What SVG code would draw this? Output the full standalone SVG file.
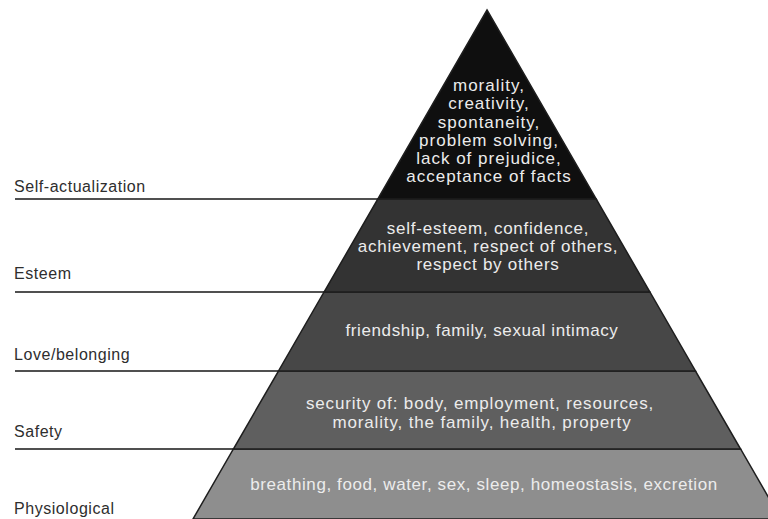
<svg xmlns="http://www.w3.org/2000/svg" width="768" height="519" viewBox="0 0 768 519">
<style>
.band{stroke:#1e1e1e;stroke-width:1.5;stroke-linejoin:miter}
.t{font-family:"Liberation Sans",Arial,Helvetica,sans-serif;font-size:17px;fill:#ececec;text-anchor:middle;letter-spacing:0.6px}
.top{letter-spacing:1px}
.es{letter-spacing:0.75px}
.lbl{font-family:"Liberation Sans",Arial,Helvetica,sans-serif;font-size:16px;fill:#2e2e2e;letter-spacing:0.55px}
.lead{stroke:#505050;stroke-width:2;fill:none}
</style>
<rect width="768" height="519" fill="#ffffff"/>
<g id="connectors">
<line class="lead" x1="15" y1="199" x2="378" y2="199"/>
<line class="lead" x1="15" y1="292" x2="324" y2="292"/>
<line class="lead" x1="15" y1="371" x2="279" y2="371"/>
<line class="lead" x1="15" y1="449" x2="234" y2="449"/>
</g>
<g id="physiological">
<polygon class="band" points="233.4,449 740.6,449 781,519 193,519" fill="#8e8e8e"/>
<text class="t" x="484" y="490">breathing, food, water, sex, sleep, homeostasis, excretion</text>
<text class="lbl" x="14" y="514">Physiological</text>
</g>
<g id="safety">
<polygon class="band" points="278.5,371 695.5,371 740.6,449 233.4,449" fill="#5f5f5f"/>
<text class="t" x="480" y="409" style="letter-spacing:0.85px">security of: body, employment, resources,</text>
<text class="t" x="482" y="428" style="letter-spacing:0.85px">morality, the family, health, property</text>
<text class="lbl" x="14" y="437">Safety</text>
</g>
<g id="love">
<polygon class="band" points="324.1,292 649.9,292 695.5,371 278.5,371" fill="#474747"/>
<text class="t" x="482" y="336">friendship, family, sexual intimacy</text>
<text class="lbl" x="14" y="360">Love/belonging</text>
</g>
<g id="esteem">
<polygon class="band" points="377.8,199 596.2,199 649.9,292 324.1,292" fill="#333333"/>
<text class="t es" x="488" y="234">self-esteem, confidence,</text>
<text class="t es" x="488" y="252">achievement, respect of others,</text>
<text class="t es" x="488" y="270">respect by others</text>
<text class="lbl" x="14" y="279">Esteem</text>
</g>
<g id="self-actualization">
<polygon class="band" points="487,10 596.2,199 377.8,199" fill="#0f0f0f"/>
<text class="t top" x="489" y="91">morality,</text>
<text class="t top" x="489" y="109">creativity,</text>
<text class="t top" x="489" y="128">spontaneity,</text>
<text class="t top" x="489" y="146">problem solving,</text>
<text class="t top" x="489" y="164">lack of prejudice,</text>
<text class="t top" x="489" y="182">acceptance of facts</text>
<text class="lbl" x="14" y="192">Self-actualization</text>
</g>
</svg>
